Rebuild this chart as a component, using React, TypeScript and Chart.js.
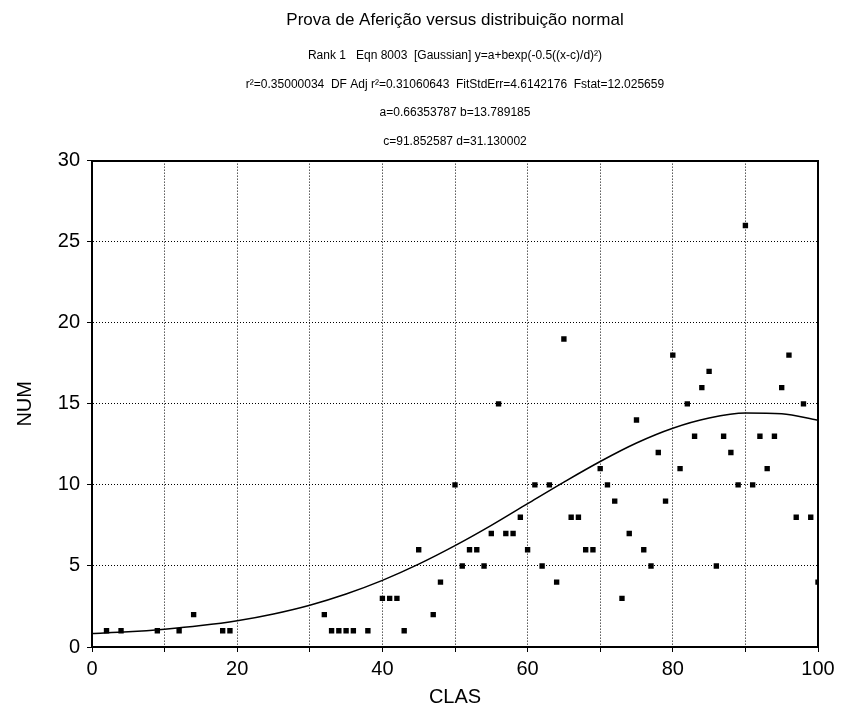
import React, { useEffect, useRef } from "react";
import { Chart, registerables } from "chart.js";

Chart.register(...registerables);

const TITLE = "Prova de Aferição versus distribuição normal";
const SUBTITLE_LINES = [
  "Rank 1   Eqn 8003  [Gaussian] y=a+bexp(-0.5((x-c)/d)²)",
  "r²=0.35000034  DF Adj r²=0.31060643  FitStdErr=4.6142176  Fstat=12.025659",
  "a=0.66353787 b=13.789185",
  "c=91.852587 d=31.130002",
];
const X_TITLE = "CLAS";
const Y_TITLE = "NUM";

// observed points
const clas = [
  2, 4, 9, 12, 14, 18, 19, 32, 33, 34, 35, 36, 38, 40, 41, 42, 43, 45, 47, 48,
  50, 51, 52, 53, 54, 55, 56, 57, 58, 59, 60, 61, 62, 63, 64, 65, 66, 67, 68, 69,
  70, 71, 72, 73, 74, 75, 76, 77, 78, 79, 80, 81, 82, 83, 84, 85, 86, 87, 88, 89,
  90, 91, 92, 93, 94, 95, 96, 97, 98, 99, 100,
];
const num = [
  1, 1, 1, 1, 2, 1, 1, 2, 1, 1, 1, 1, 1, 3, 3, 3, 1, 6, 2, 4,
  10, 5, 6, 6, 5, 7, 15, 7, 7, 8, 6, 10, 5, 10, 4, 19, 8, 8, 6, 6,
  11, 10, 9, 3, 7, 14, 6, 5, 12, 9, 18, 11, 15, 13, 16, 17, 5, 13, 12, 10,
  26, 10, 13, 11, 13, 16, 18, 8, 15, 8, 4,
];

// fitted curve
const curveX = [0, 5, 10, 15, 20, 25, 30, 35, 40, 45, 50, 55, 60, 65, 70, 75, 80, 85, 90, 95, 100];
const curveY = [0.84, 0.94, 1.1, 1.32, 1.62, 2.04, 2.58, 3.27, 4.11, 5.11, 6.25, 7.5, 8.84, 10.17, 11.44, 12.58, 13.49, 14.12, 14.43, 14.38, 13.99];

const xLabelled = [0, 20, 40, 60, 80, 100];
const yLabelled = [0, 5, 10, 15, 20, 25, 30];

const FONT = "'Liberation Sans', Arial, sans-serif";

// frame around the plot area + center the title block over the plot
const frame = {
  id: "frame",
  afterLayout(chart: any) {
    const { chartArea } = chart;
    for (const box of chart.boxes) {
      if (box.axis === undefined && box.position === "top") {
        box.left = chartArea.left;
        box.right = chartArea.right;
        box.width = chartArea.right - chartArea.left;
      }
    }
  },
  beforeDatasetsDraw(chart: any) {
    const { ctx, chartArea } = chart;
    const l = Math.round(chartArea.left);
    const t = Math.round(chartArea.top);
    const r = Math.round(chartArea.right);
    const b = Math.round(chartArea.bottom);
    ctx.save();
    ctx.strokeStyle = "#000";
    ctx.lineWidth = 2;
    ctx.strokeRect(l, t, r - l, b - t);
    ctx.restore();
  },
};

export default function App() {
  const ref = useRef<HTMLCanvasElement | null>(null);

  useEffect(() => {
    if (!ref.current) return;
    const chart = new Chart(ref.current, {
      type: "scatter",
      data: {
        datasets: [
          {
            label: "data",
            data: clas.map((x, i) => ({ x, y: num[i] })),
            pointStyle: "rect",
            pointRadius: 3.8,
            pointBorderWidth: 0,
            backgroundColor: "#000",
            borderColor: "#000",
            showLine: false,
          },
          {
            label: "fit",
            data: curveX.map((x, i) => ({ x, y: curveY[i] })),
            showLine: true,
            pointRadius: 0,
            borderColor: "#000",
            borderWidth: 1.5,
            cubicInterpolationMode: "monotone",
            fill: false,
          },
        ],
      },
      options: {
        animation: false,
        responsive: true,
        maintainAspectRatio: false,
        layout: { padding: { top: 2, left: 0, right: 23, bottom: 0 } },
        plugins: {
          legend: { display: false },
          tooltip: { enabled: false },
          title: {
            display: true,
            text: TITLE,
            color: "#000",
            font: { family: FONT, size: 17, weight: "normal", lineHeight: 1.2 },
            padding: { top: 8, bottom: 4 },
          },
          subtitle: {
            display: true,
            text: SUBTITLE_LINES,
            color: "#000",
            font: { family: FONT, size: 12, weight: "normal", lineHeight: 2.38 },
            padding: { top: 7, bottom: 5 },
          },
        },
        scales: {
          x: {
            type: "linear",
            min: 0,
            max: 100,
            afterFit: (s: any) => {
              s.height = 62;
            },
            ticks: {
              stepSize: 10,
              autoSkip: false,
              maxRotation: 0,
              color: "#000",
              padding: 5,
              font: { family: FONT, size: 20 },
              callback: (v: any) => (xLabelled.includes(Number(v)) ? String(v) : ""),
            },
            grid: {
              color: "#000",
              lineWidth: 1,
              tickLength: 5,
              tickColor: "#000",
              tickBorderDash: [],
            },
            border: { display: true, color: "#000", width: 2, dash: [1, 2] },
            title: {
              display: true,
              text: X_TITLE,
              color: "#000",
              font: { family: FONT, size: 20, lineHeight: 1.2 },
              padding: { top: 0, bottom: 0 },
            },
          },
          y: {
            type: "linear",
            min: 0,
            max: 30,
            afterFit: (s: any) => {
              s.width = 92;
            },
            ticks: {
              stepSize: 5,
              autoSkip: false,
              color: "#000",
              padding: 7,
              font: { family: FONT, size: 20 },
              callback: (v: any) => (yLabelled.includes(Number(v)) ? String(v) : ""),
            },
            grid: {
              color: "#000",
              lineWidth: 1,
              tickLength: 5,
              tickColor: "#000",
              tickBorderDash: [],
            },
            border: { display: true, color: "#000", width: 2, dash: [1, 2] },
            title: {
              display: true,
              text: Y_TITLE,
              color: "#000",
              font: { family: FONT, size: 20, lineHeight: 1.2 },
              padding: { top: 13, bottom: 0 },
            },
          },
        },
      },
      plugins: [frame],
    } as any);
    return () => chart.destroy();
  }, []);

  return (
    <div
      style={{
        position: "fixed",
        left: 0,
        top: 0,
        width: 841,
        height: 709,
        background: "#fff",
      }}
    >
      <canvas ref={ref} />
    </div>
  );
}
